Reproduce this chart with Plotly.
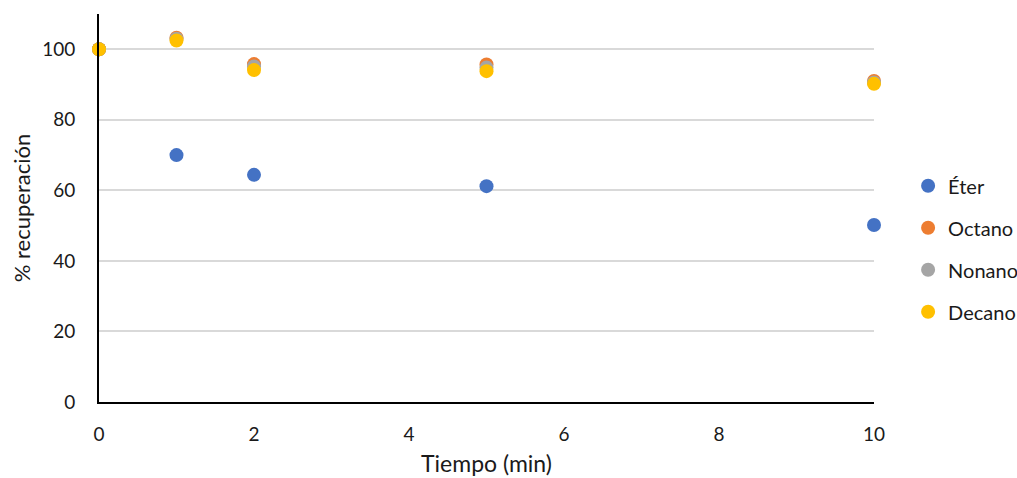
import plotly.graph_objects as go

tiempo = [0, 1, 2, 5, 10]
eter = [100, 70.0, 64.4, 61.2, 50.2]
octano = [100, 103.3, 95.8, 95.7, 91.0]
nonano = [100, 103.0, 95.1, 94.8, 90.6]
decano = [100, 102.5, 94.1, 93.8, 90.2]

series = [
    ("Éter", eter, "#4472C4"),
    ("Octano", octano, "#ED7D31"),
    ("Nonano", nonano, "#A5A5A5"),
    ("Decano", decano, "#FFC000"),
]

fig = go.Figure()
for i, (name, vals, color) in enumerate(series):
    fig.add_trace(go.Scatter(
        x=tiempo, y=vals, mode="markers", name=name,
        legendgroup=f"g{i}",
        marker=dict(size=14, color=color),
        cliponaxis=False,
    ))

font = "Lato, 'Open Sans', sans-serif"
fig.update_layout(
    width=1017, height=478,
    margin=dict(l=99, r=143, t=14, b=76, autoexpand=False),
    paper_bgcolor="white", plot_bgcolor="white",
    font=dict(family=font, size=19, color="#1a1a1a"),
    showlegend=True,
    legend=dict(x=1.044, xanchor="left", y=0.395, yanchor="middle",
                tracegroupgap=13, font=dict(size=20), itemwidth=30,
                bgcolor="rgba(0,0,0,0)"),
    xaxis=dict(range=[0, 10], dtick=2, showgrid=False, zeroline=False,
               showline=True, linecolor="black", linewidth=2,
               ticks="", ticklabelstandoff=14,
               title=dict(text="Tiempo (min)", standoff=12, font=dict(size=23))),
    yaxis=dict(range=[0, 110], dtick=20, showgrid=True, gridcolor="#d9d9d9",
               gridwidth=1.5, zeroline=False,
               showline=True, linecolor="black", linewidth=2,
               ticks="", ticklabelstandoff=18,
               title=dict(text="% recuperación", standoff=5, font=dict(size=22))),
)
fig.write_html("out.html")
